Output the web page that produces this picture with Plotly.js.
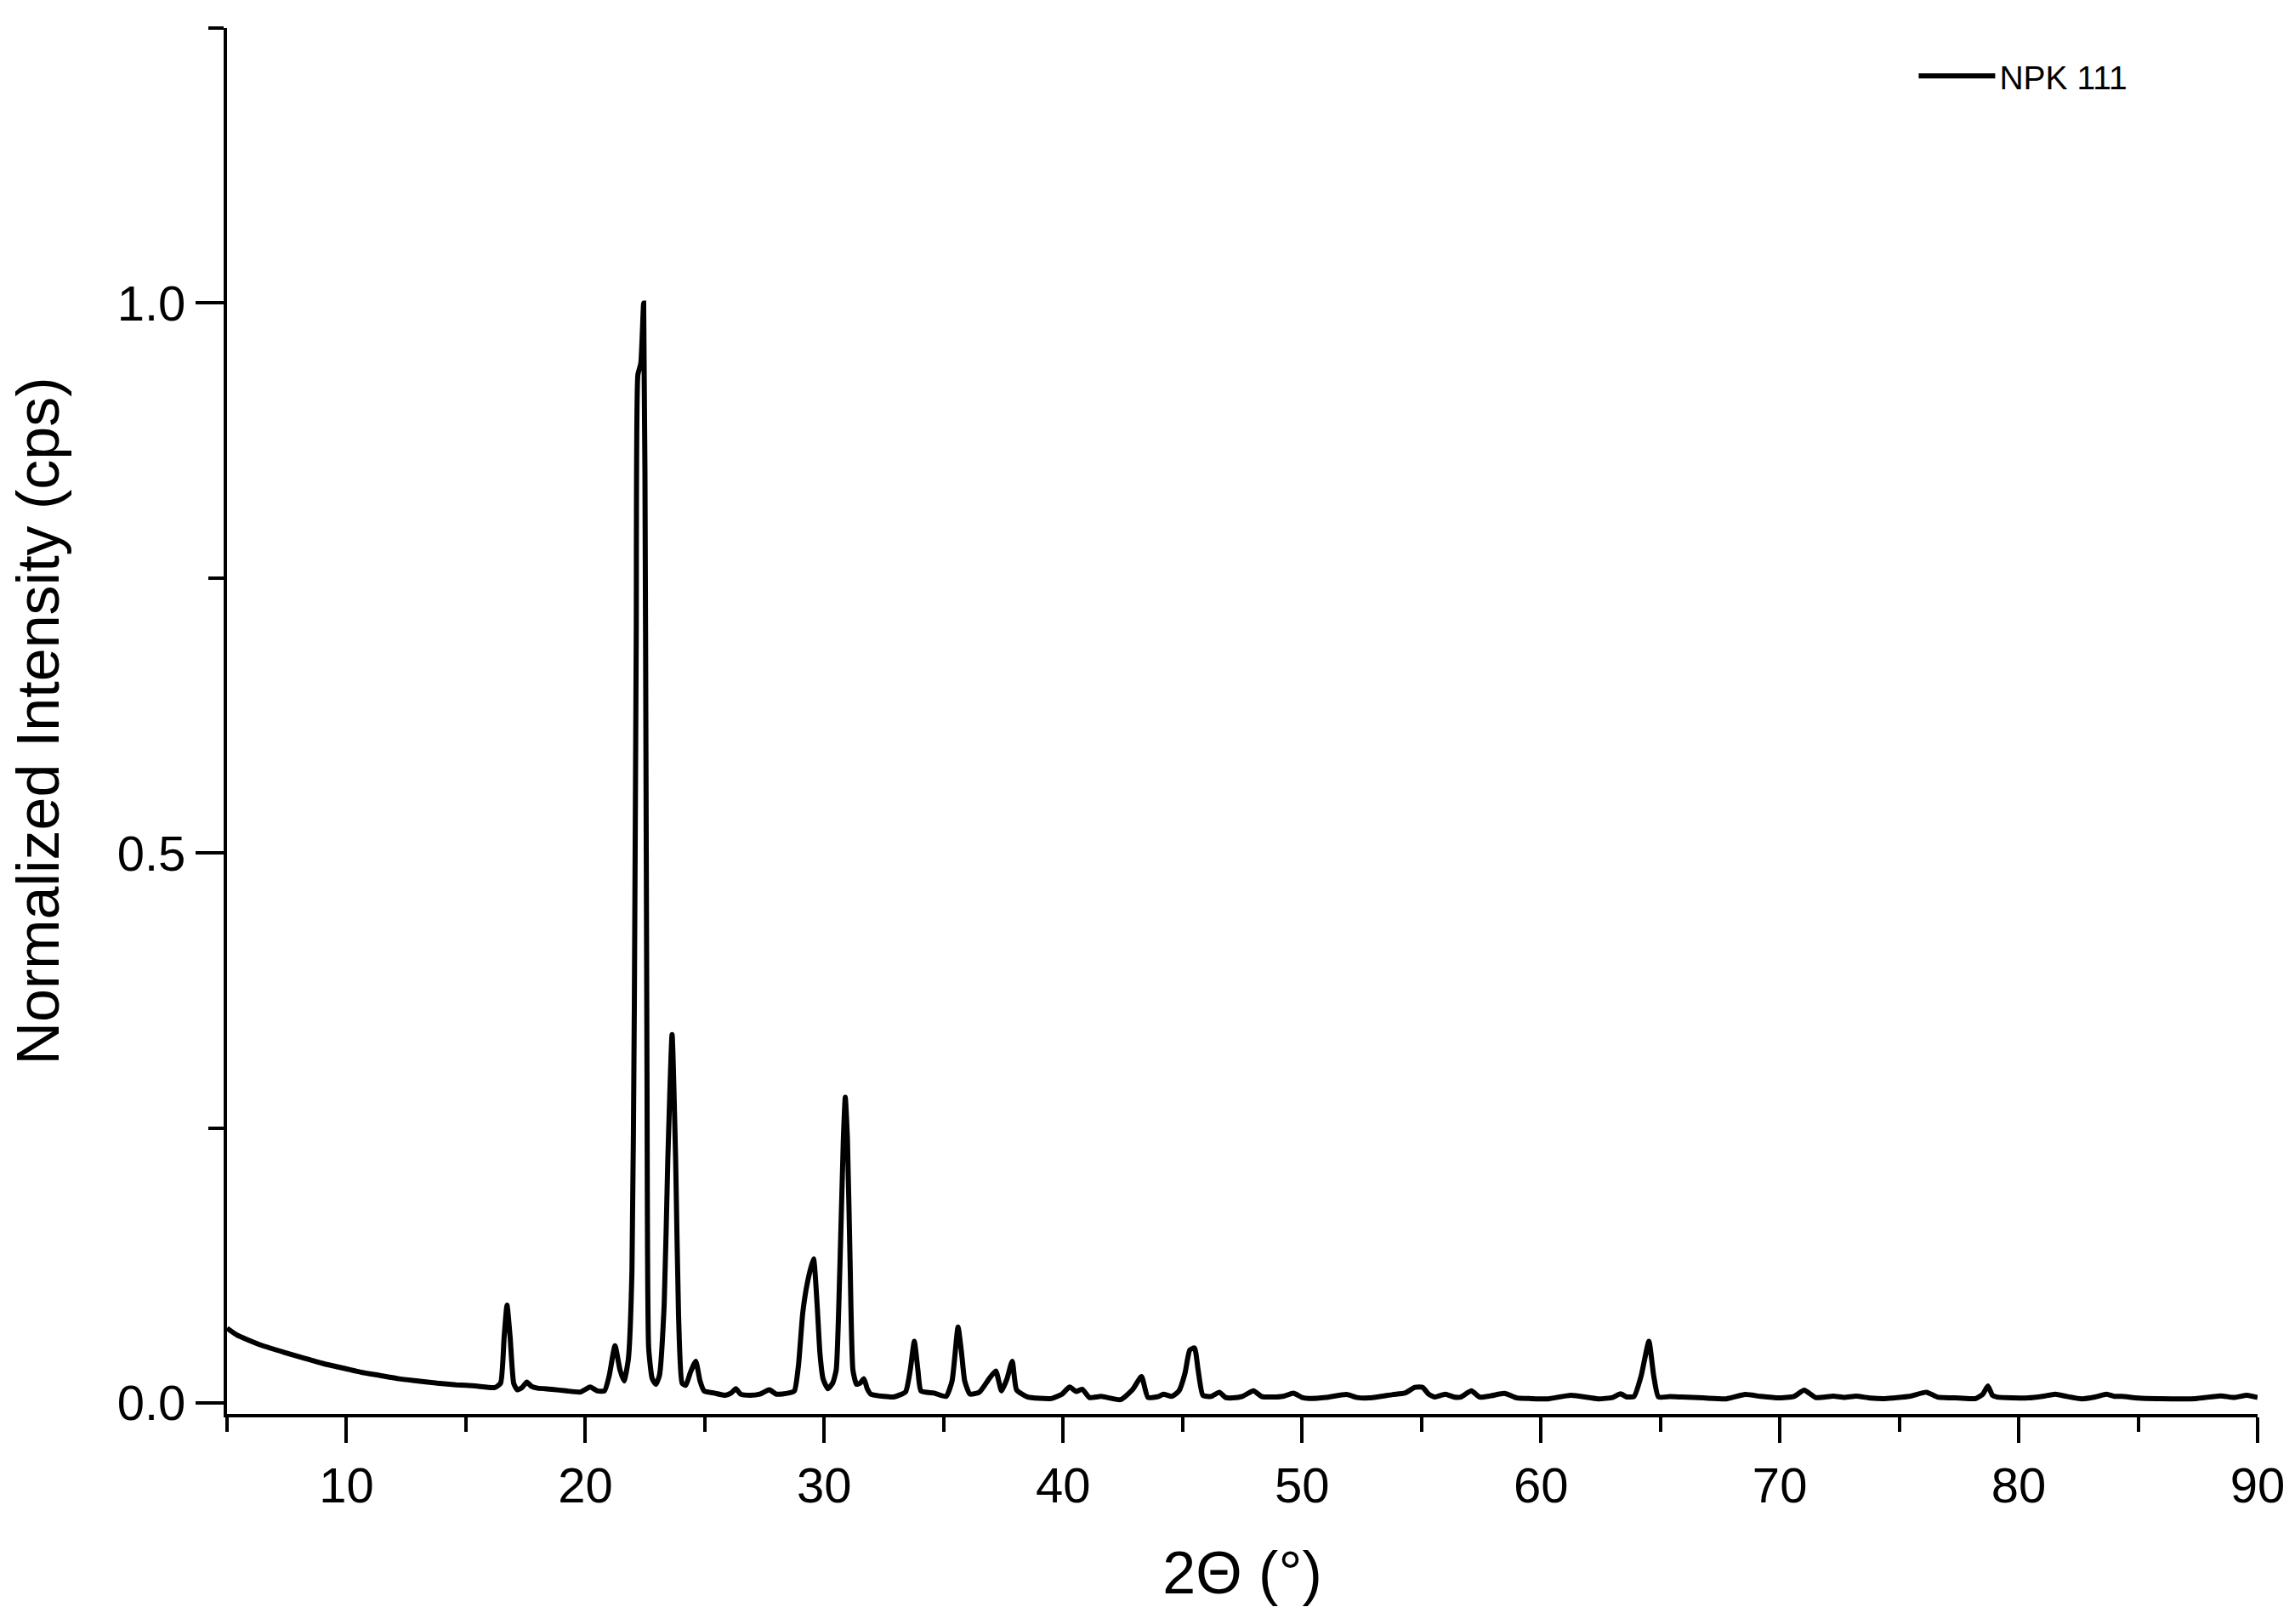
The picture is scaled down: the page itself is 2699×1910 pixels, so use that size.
<!DOCTYPE html>
<html>
<head>
<meta charset="utf-8">
<script src="https://cdn.plot.ly/plotly-3.0.1.min.js"></script>
<style>html,body{margin:0;padding:0;background:#fff;}#chart{width:2699px;height:1910px;}</style>
</head>
<body>
<div id="chart"></div>
<script>
// 2-theta positions (degrees)
var twoTheta = [
5.0,5.4,5.8,6.5,7.4,8.2,9.0,10.0,10.6,11.4,12.2,13.0,13.8,14.6,15.4,16.2,
16.45,16.6,16.72,16.85,17.0,17.15,17.35,17.55,17.75,18.0,18.6,19.2,19.8,20.2,20.5,20.8,
21.0,21.24,21.45,21.62,21.8,21.95,22.05,22.13,22.2,22.32,22.44,22.52,22.58,22.65,22.8,22.95,
23.1,23.3,23.45,23.63,23.78,23.9,24.05,24.2,24.4,24.62,24.8,24.97,25.4,25.85,26.1,26.3,26.5,26.9,
27.3,27.7,28.0,28.5,28.75,28.92,29.1,29.3,29.55,29.7,29.82,29.95,30.15,30.35,30.5,30.65,30.8,30.88,
30.97,31.08,31.2,31.35,31.5,31.66,31.8,31.95,32.5,32.9,33.4,33.6,33.77,33.92,34.05,34.6,35.1,35.35,
35.6,35.75,35.88,36.1,36.5,36.9,37.18,37.42,37.65,37.87,38.05,38.5,39.5,39.95,40.27,40.55,40.8,41.1,
41.6,42.4,42.9,43.28,43.55,44.0,44.2,44.55,44.85,45.1,45.3,45.5,45.65,45.85,46.2,46.54,46.8,47.1,
47.5,47.97,48.3,48.7,49.2,49.64,50.0,50.3,51.0,51.86,52.3,52.8,53.3,53.8,54.3,54.73,55.05,55.3,55.55,
56.0,56.35,56.64,57.09,57.44,57.9,58.47,59.0,59.6,60.3,61.26,62.4,63.0,63.33,63.6,63.9,64.2,64.52,
64.72,64.92,65.4,65.9,66.8,67.75,68.55,69.2,69.94,70.6,71.02,71.5,72.24,72.7,73.19,73.8,74.4,75.42,
76.14,76.6,77.5,78.2,78.5,78.71,78.9,79.1,80.4,81.0,81.53,82.0,82.65,83.2,83.68,84.0,84.31,85.0,85.8,
87.4,88.45,89.0,89.56,90.0
];
// Normalized intensity
var intensity = [
0.068,0.062,0.058,0.052,0.046,0.041,0.036,0.031,0.028,0.025,0.022,0.020,0.018,0.0165,0.0155,0.014,
0.018,0.060,0.089,0.060,0.018,0.012,0.014,0.019,0.015,0.0135,0.0125,0.011,0.010,0.0145,0.011,0.011,
0.025,0.052,0.030,0.020,0.040,0.120,0.360,0.700,0.935,0.945,1.000,0.700,0.300,0.050,0.022,0.017,
0.025,0.090,0.220,0.335,0.220,0.080,0.018,0.016,0.028,0.038,0.020,0.011,0.009,0.007,0.009,0.013,0.008,0.007,
0.008,0.012,0.008,0.009,0.011,0.034,0.082,0.110,0.131,0.090,0.045,0.022,0.013,0.018,0.030,0.120,0.240,0.278,
0.240,0.130,0.030,0.017,0.018,0.022,0.013,0.008,0.006,0.0055,0.010,0.030,0.056,0.030,0.011,0.009,0.006,0.020,
0.069,0.045,0.020,0.008,0.010,0.022,0.029,0.011,0.022,0.038,0.012,0.0055,0.004,0.008,0.0145,0.0105,0.0125,0.005,
0.006,0.003,0.012,0.024,0.005,0.006,0.008,0.006,0.011,0.027,0.048,0.050,0.030,0.007,0.006,0.0098,0.005,0.0046,
0.006,0.011,0.006,0.0054,0.006,0.009,0.005,0.0041,0.005,0.0077,0.005,0.0046,0.006,0.0077,0.009,0.0142,0.0142,0.008,0.0054,
0.008,0.0055,0.0054,0.011,0.0054,0.0065,0.0087,0.0046,0.004,0.0038,0.007,0.0038,0.005,0.0083,0.0055,0.006,0.025,0.056,
0.025,0.0055,0.0058,0.0054,0.0046,0.0038,0.0077,0.006,0.0046,0.006,0.0116,0.005,0.0062,0.005,0.0062,0.0045,0.004,0.006,
0.0098,0.0054,0.0045,0.004,0.008,0.0155,0.007,0.0054,0.0046,0.006,0.008,0.006,0.0038,0.0055,0.008,0.006,0.006,0.0045,0.004,
0.004,0.0065,0.005,0.007,0.005
];
var seriesName = "NPK 111";

var xTickVals = [10,20,30,40,50,60,70,80,90];
var xTickText = ["10","20","30","40","50","60","70","80","90"];
var xMinorVals = [5,15,25,35,45,55,65,75,85];
var yTickVals = [0,0.5,1.0];
var yTickText = ["0.0","0.5","1.0"];
var yMinorVals = [0.25,0.75,1.25];

var FONT = "Liberation Sans, Arial, Helvetica, sans-serif";

var trace = {
  x: twoTheta,
  y: intensity,
  type: "scatter",
  mode: "lines",
  name: seriesName,
  line: {color: "#000000", width: 6, shape: "spline", smoothing: 0.5},
  showlegend: true
};

var layout = {
  width: 2699,
  height: 1910,
  margin: {l: 267, r: 44, t: 33, b: 247, pad: 0},
  paper_bgcolor: "#ffffff",
  plot_bgcolor: "#ffffff",
  font: {family: FONT, color: "#000000"},
  showlegend: true,
  legend: {
    x: 0.831, y: 0.985, xanchor: "left", yanchor: "top",
    bgcolor: "rgba(0,0,0,0)",
    font: {family: FONT, size: 39, color: "#000000"},
    itemwidth: 90
  },
  xaxis: {
    range: [5, 90],
    showgrid: false, zeroline: false,
    showline: true, linecolor: "#000000", linewidth: 4,
    ticks: "outside", ticklen: 30, tickwidth: 4, tickcolor: "#000000",
    tickmode: "array", tickvals: xTickVals, ticktext: xTickText,
    tickfont: {family: FONT, size: 58, color: "#000000"},
    minor: {tickmode: "array", tickvals: xMinorVals, ticks: "outside", ticklen: 17, tickwidth: 4, tickcolor: "#000000", showgrid: false},
    title: {text: "2\u0398 (\u00b0)", font: {family: FONT, size: 70, color: "#000000"}, standoff: 48},
    automargin: false
  },
  yaxis: {
    range: [-0.01, 1.25],
    showgrid: false, zeroline: false,
    showline: true, linecolor: "#000000", linewidth: 4,
    ticks: "outside", ticklen: 33, tickwidth: 4, tickcolor: "#000000",
    tickmode: "array", tickvals: yTickVals, ticktext: yTickText,
    tickfont: {family: FONT, size: 58, color: "#000000"},
    minor: {tickmode: "array", tickvals: yMinorVals, ticks: "outside", ticklen: 18, tickwidth: 4, tickcolor: "#000000", showgrid: false},
    title: {text: "Normalized Intensity (cps)", font: {family: FONT, size: 70, color: "#000000"}, standoff: 46},
    automargin: false
  }
};

Plotly.newPlot("chart", [trace], layout, {staticPlot: true, displayModeBar: false});
</script>
</body>
</html>
